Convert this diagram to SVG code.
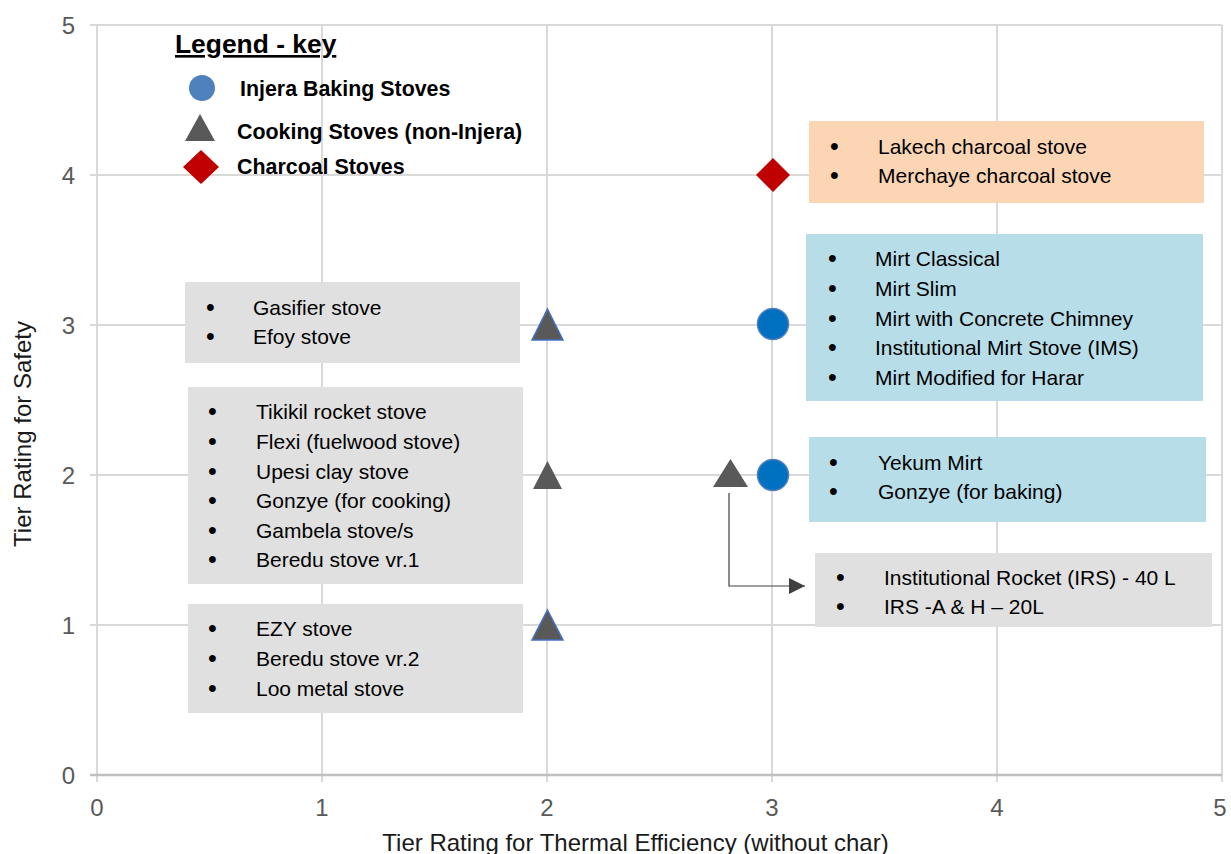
<svg xmlns="http://www.w3.org/2000/svg" width="1231" height="854" viewBox="0 0 1231 854">
<style>
.grid{stroke:#d9d9d9;stroke-width:2;fill:none}
.axis{stroke:#bfbfbf;stroke-width:2.5;fill:none}
.tick{font-family:"Liberation Sans",Arial,sans-serif;font-size:24px;fill:#595959}
.title{font-family:"Liberation Sans",Arial,sans-serif;font-size:24px;fill:#1a1a1a}
.lbl{font-family:"Liberation Sans",Arial,sans-serif;font-size:21px;fill:#000}
.b{font-size:25px}
.leg{font-family:"Liberation Sans",Arial,sans-serif;font-size:21.4px;font-weight:bold;fill:#000}
.gray{fill:#e0e0e0}
.blue{fill:#b7dde8}
.peach{fill:#fcd5b4}
.tri{fill:#595959}
.tri-b{fill:#595959;stroke:#4472c4;stroke-width:1.5}
.circ{fill:#0070c0;stroke:#4f81bd;stroke-width:1.5}
.dia{fill:#c00000}
.conn{stroke:#404040;stroke-width:1.2;fill:none}
</style>
<defs>
<marker id="arr" markerWidth="16" markerHeight="16" refX="16" refY="8" orient="auto" markerUnits="userSpaceOnUse">
<path d="M0,0 L16,8 L0,16 Z" fill="#404040"/>
</marker>
</defs>
<rect width="1231" height="854" fill="#ffffff"/>
<g id="gridlines">
<path class="grid" d="M90,25H1222M90,175H1222M90,325H1222M90,475H1222M90,625H1222"/>
<path class="grid" d="M97,25V782M322,25V782M547,25V782M772,25V782M997,25V782M1222,25V782"/>
<path class="axis" d="M90,775H1222"/>
</g>
<g id="ticks">
<text class="tick" x="75" y="34" text-anchor="end">5</text>
<text class="tick" x="75" y="184" text-anchor="end">4</text>
<text class="tick" x="75" y="334" text-anchor="end">3</text>
<text class="tick" x="75" y="484" text-anchor="end">2</text>
<text class="tick" x="75" y="634" text-anchor="end">1</text>
<text class="tick" x="75" y="784" text-anchor="end">0</text>
<text class="tick" x="97" y="816" text-anchor="middle">0</text>
<text class="tick" x="322" y="816" text-anchor="middle">1</text>
<text class="tick" x="547" y="816" text-anchor="middle">2</text>
<text class="tick" x="772" y="816" text-anchor="middle">3</text>
<text class="tick" x="997" y="816" text-anchor="middle">4</text>
<text class="tick" x="1220" y="816" text-anchor="middle">5</text>
</g>
<text class="title" x="635.5" y="851" text-anchor="middle">Tier Rating for Thermal Efficiency (without char)</text>
<text class="title" transform="translate(31,434) rotate(-90)" text-anchor="middle">Tier Rating for Safety</text>
<g id="legend">
<text class="leg" x="175" y="53" style="font-size:26.4px;text-decoration:underline">Legend - key</text>
<circle cx="202" cy="88" r="13" fill="#4f81bd"/>
<text class="leg" x="240" y="96">Injera Baking Stoves</text>
<polygon points="200,114 215,141 185,141" class="tri"/>
<text class="leg" x="237" y="139">Cooking Stoves (non-Injera)</text>
<polygon points="201,150 219,167 201,184 183,167" class="dia"/>
<text class="leg" x="237" y="174">Charcoal Stoves</text>
</g>
<g id="box-gasifier">
<rect class="gray" x="185" y="282" width="335" height="81"/>
<text class="lbl"><tspan class="b" x="206" y="316">•</tspan><tspan x="253" y="315">Gasifier stove</tspan></text>
<text class="lbl"><tspan class="b" x="206" y="345">•</tspan><tspan x="253" y="344">Efoy stove</tspan></text>
</g>
<g id="box-tikikil">
<rect class="gray" x="188" y="387" width="335" height="197"/>
<text class="lbl"><tspan class="b" x="208" y="420">•</tspan><tspan x="256" y="419">Tikikil rocket stove</tspan></text>
<text class="lbl"><tspan class="b" x="208" y="450">•</tspan><tspan x="256" y="449">Flexi (fuelwood stove)</tspan></text>
<text class="lbl"><tspan class="b" x="208" y="480">•</tspan><tspan x="256" y="479">Upesi clay stove</tspan></text>
<text class="lbl"><tspan class="b" x="208" y="509">•</tspan><tspan x="256" y="508">Gonzye (for cooking)</tspan></text>
<text class="lbl"><tspan class="b" x="208" y="539">•</tspan><tspan x="256" y="538">Gambela stove/s</tspan></text>
<text class="lbl"><tspan class="b" x="208" y="568">•</tspan><tspan x="256" y="567">Beredu stove vr.1</tspan></text>
</g>
<g id="box-ezy">
<rect class="gray" x="188" y="604" width="335" height="109"/>
<text class="lbl"><tspan class="b" x="208" y="637">•</tspan><tspan x="256" y="636">EZY stove</tspan></text>
<text class="lbl"><tspan class="b" x="208" y="667">•</tspan><tspan x="256" y="666">Beredu stove vr.2</tspan></text>
<text class="lbl"><tspan class="b" x="208" y="697">•</tspan><tspan x="256" y="696">Loo metal stove</tspan></text>
</g>
<g id="box-charcoal">
<rect class="peach" x="809" y="121" width="395" height="82"/>
<text class="lbl"><tspan class="b" x="830" y="155">•</tspan><tspan x="878" y="154">Lakech charcoal stove</tspan></text>
<text class="lbl"><tspan class="b" x="830" y="184">•</tspan><tspan x="878" y="183">Merchaye charcoal stove</tspan></text>
</g>
<g id="box-mirt">
<rect class="blue" x="806" y="234" width="397" height="167"/>
<text class="lbl"><tspan class="b" x="828" y="267">•</tspan><tspan x="875" y="266">Mirt Classical</tspan></text>
<text class="lbl"><tspan class="b" x="828" y="297">•</tspan><tspan x="875" y="296">Mirt Slim</tspan></text>
<text class="lbl"><tspan class="b" x="828" y="327">•</tspan><tspan x="875" y="326">Mirt with Concrete Chimney</tspan></text>
<text class="lbl"><tspan class="b" x="828" y="356">•</tspan><tspan x="875" y="355">Institutional Mirt Stove (IMS)</tspan></text>
<text class="lbl"><tspan class="b" x="828" y="386">•</tspan><tspan x="875" y="385">Mirt Modified for Harar</tspan></text>
</g>
<g id="box-yekum">
<rect class="blue" x="809" y="437" width="397" height="85"/>
<text class="lbl"><tspan class="b" x="829" y="471">•</tspan><tspan x="878" y="470">Yekum Mirt</tspan></text>
<text class="lbl"><tspan class="b" x="829" y="500">•</tspan><tspan x="878" y="499">Gonzye (for baking)</tspan></text>
</g>
<g id="box-irs">
<rect class="gray" x="815" y="553" width="397" height="74"/>
<text class="lbl"><tspan class="b" x="836" y="586">•</tspan><tspan x="884" y="585">Institutional Rocket (IRS) - 40 L</tspan></text>
<text class="lbl"><tspan class="b" x="836" y="615">•</tspan><tspan x="884" y="614">IRS -A &amp; H – 20L</tspan></text>
</g>
<g id="points">
<polygon id="pt-2-3" class="tri-b" points="547.5,309 563,340 532,340"/>
<polygon id="pt-2-2" class="tri" points="547.5,461 562,489 533,489"/>
<polygon id="pt-2-1" class="tri-b" points="547.5,610 563,640 532,640"/>
<polygon id="pt-28-2" class="tri" points="730.5,459 748,487 713,487"/>
<circle id="pt-3-3" class="circ" cx="773" cy="324" r="15.5"/>
<circle id="pt-3-2" class="circ" cx="773" cy="475" r="15.5"/>
<polygon id="pt-3-4" class="dia" points="773,158 790,175 773,192 756,175"/>
</g>
<g id="connectors">
<path class="conn" d="M729,493V586H805" marker-end="url(#arr)"/>
</g>
</svg>
